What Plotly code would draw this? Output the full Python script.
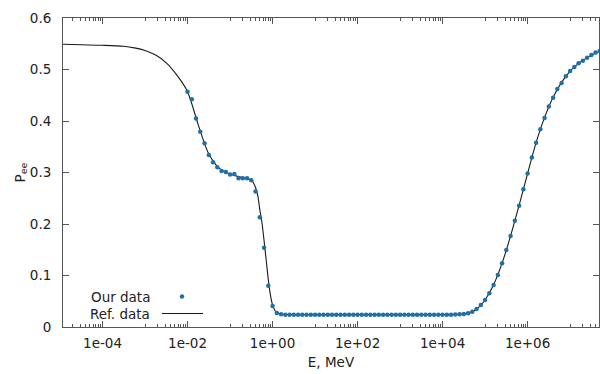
import plotly.graph_objects as go

# ---- data ----
# "Our data": log10(E/MeV) grid and P_ee values
our_log10_e = [-2.0, -1.9, -1.8, -1.7, -1.6, -1.5, -1.4, -1.3, -1.2, -1.1,
               -1.0, -0.9, -0.8, -0.7, -0.6, -0.5, -0.4, -0.3, -0.2, -0.1,
               0.0, 0.1, 0.2, 0.3, 0.4, 0.5, 0.6, 0.7, 0.8, 0.9,
               1.0, 1.1, 1.2, 1.3, 1.4, 1.5, 1.6, 1.7, 1.8, 1.9,
               2.0, 2.1, 2.2, 2.3, 2.4, 2.5, 2.6, 2.7, 2.8, 2.9,
               3.0, 3.1, 3.2, 3.3, 3.4, 3.5, 3.6, 3.7, 3.8, 3.9,
               4.0, 4.1, 4.2, 4.3, 4.4, 4.5, 4.6, 4.7, 4.8, 4.9,
               5.0, 5.1, 5.2, 5.3, 5.4, 5.5, 5.6, 5.7, 5.8, 5.9,
               6.0, 6.1, 6.2, 6.3, 6.4, 6.5, 6.6, 6.7, 6.8, 6.9,
               7.0, 7.1, 7.2, 7.3, 7.4, 7.5, 7.6, 7.7]
our_pee = [0.457, 0.442, 0.405, 0.379, 0.357, 0.334, 0.320, 0.310, 0.303, 0.301,
           0.296, 0.297, 0.289, 0.289, 0.289, 0.285, 0.263, 0.213, 0.154, 0.080,
           0.041, 0.027, 0.025, 0.024, 0.024, 0.024, 0.024, 0.024, 0.024, 0.024,
           0.024, 0.024, 0.024, 0.024, 0.024, 0.024, 0.024, 0.024, 0.024, 0.024,
           0.024, 0.024, 0.024, 0.024, 0.024, 0.024, 0.024, 0.024, 0.024, 0.024,
           0.024, 0.024, 0.024, 0.024, 0.024, 0.024, 0.024, 0.024, 0.024, 0.024,
           0.024, 0.024, 0.024, 0.0242, 0.0246, 0.0252, 0.0266, 0.0297, 0.035, 0.0427,
           0.0524, 0.0654, 0.0816, 0.101, 0.1237, 0.1495, 0.1767, 0.2064, 0.2355, 0.2674,
           0.298, 0.329, 0.358, 0.384, 0.406, 0.428, 0.445, 0.462, 0.474, 0.487,
           0.497, 0.505, 0.512, 0.517, 0.523, 0.528, 0.533, 0.536]

# "Ref. data": smooth reference curve
ref_log10_e = [-4.93, -4.5, -4.0, -3.5, -3.25, -3.0, -2.75, -2.5, -2.25, -2.0,
               -1.75, -1.5, -1.25, -1.0, -0.75, -0.6, -0.5, -0.45, -0.4, -0.35,
               -0.3, -0.25, -0.2, -0.15, -0.1, -0.05, 0.0, 0.05, 0.1, 0.2,
               0.4, 1.0, 2.0, 3.0, 4.0, 4.3, 4.5, 4.6, 4.7, 4.8,
               4.9, 5.0, 5.2, 5.4, 5.6, 5.8, 6.0, 6.2, 6.4, 6.6,
               6.8, 7.0, 7.2, 7.4, 7.68]
ref_pee = [0.549, 0.548, 0.547, 0.545, 0.542, 0.537, 0.528, 0.513, 0.489, 0.457,
           0.393, 0.336, 0.308, 0.297, 0.291, 0.288, 0.285, 0.280, 0.271, 0.256,
           0.228, 0.203, 0.168, 0.130, 0.092, 0.062, 0.043, 0.033, 0.028, 0.0252,
           0.024, 0.024, 0.024, 0.024, 0.024, 0.0245, 0.0255, 0.027, 0.030, 0.035,
           0.0425, 0.0525, 0.082, 0.124, 0.177, 0.236, 0.298, 0.358, 0.407, 0.446,
           0.475, 0.497, 0.512, 0.523, 0.535]

x_major_ticks = [1e-4, 1e-2, 1e0, 1e2, 1e4, 1e6]
x_major_labels = ["1e-04", "1e-02", "1e+00", "1e+02", "1e+04", "1e+06"]
x_minor_decades = [-5, -3, -1, 1, 3, 5, 7]
y_ticks = [0, 0.1, 0.2, 0.3, 0.4, 0.5, 0.6]
y_labels = ["0", "0.1", "0.2", "0.3", "0.4", "0.5", "0.6"]

series_names = ["Our data", "Ref. data"]
x_title = "E, MeV"
y_title = "P<sub>ee</sub>"

# ---- figure ----
FONT = "DejaVu Sans"
TXT = "#222222"
AX = "#555555"
DOT = "#1f6fa8"
LINE = "#1a1a1a"

our_e = [10 ** v for v in our_log10_e]
ref_e = [10 ** v for v in ref_log10_e]
minor_vals = [k * 10.0 ** d for d in x_minor_decades for k in range(1, 10)]

fig = go.Figure()
fig.add_trace(go.Scatter(x=ref_e, y=ref_pee, mode="lines", name=series_names[1],
                         line=dict(color=LINE, width=1.1, shape="spline", smoothing=0.8),
                         showlegend=False))
fig.add_trace(go.Scatter(x=our_e, y=our_pee, mode="markers", name=series_names[0],
                         marker=dict(color=DOT, size=4.5, line=dict(width=0)),
                         showlegend=False))

W, H = 600, 374
L, R, T, B = 63, 1, 18, 47
pw, ph = W - L - R, H - T - B

def px(xp):
    return (xp - L) / pw

def py(yp):
    return (H - B - yp) / ph

# custom gnuplot-style key (text right-aligned, sample on the right)
fig.add_annotation(x=px(152), y=py(296.5), xref="paper", yref="paper", text=series_names[0],
                   showarrow=False, xanchor="right", yanchor="middle",
                   font=dict(family=FONT, size=13.5, color=TXT))
fig.add_annotation(x=px(152), y=py(313.5), xref="paper", yref="paper", text=series_names[1],
                   showarrow=False, xanchor="right", yanchor="middle",
                   font=dict(family=FONT, size=13.5, color=TXT))
fig.add_shape(type="circle", xref="paper", yref="paper", xsizemode="pixel", ysizemode="pixel",
              xanchor=px(182), yanchor=py(296.5), x0=-2.2, x1=2.2, y0=-2.2, y1=2.2,
              fillcolor=DOT, line=dict(width=0))
fig.add_shape(type="line", xref="paper", yref="paper", x0=px(162), x1=px(203),
              y0=py(313.5), y1=py(313.5), line=dict(color=LINE, width=1.1))

fig.update_layout(
    width=W, height=H,
    margin=dict(l=L, r=R, t=T, b=B, autoexpand=False),
    paper_bgcolor="white", plot_bgcolor="white",
    font=dict(family=FONT, size=13.5, color=TXT),
    showlegend=False,
    xaxis=dict(
        type="log", range=[-4.93, 7.68], automargin=False,
        tickmode="array", tickvals=x_major_ticks, ticktext=x_major_labels,
        ticks="inside", ticklen=6, tickwidth=1, tickcolor=AX,
        minor=dict(tickmode="array", tickvals=minor_vals, ticks="inside",
                   ticklen=3, tickwidth=1, tickcolor=AX, showgrid=False),
        showline=True, linecolor=AX, linewidth=1, mirror="allticks",
        showgrid=False, zeroline=False,
        title=dict(text=x_title, font=dict(family=FONT, size=13.5, color=TXT), standoff=7),
        tickfont=dict(family=FONT, size=13.5, color=TXT),
        ticklabelstandoff=4,
    ),
    yaxis=dict(
        range=[0, 0.6], automargin=False,
        tickmode="array", tickvals=y_ticks, ticktext=y_labels,
        ticks="inside", ticklen=6, tickwidth=1, tickcolor=AX,
        showline=True, linecolor=AX, linewidth=1, mirror="allticks",
        showgrid=False, zeroline=False,
        title=dict(text=y_title, font=dict(family=FONT, size=13.5, color=TXT), standoff=1),
        tickfont=dict(family=FONT, size=13.5, color=TXT),
        ticklabelstandoff=8,
    ),
)

fig.write_html("out.html",
               config={"displayModeBar": False},
               post_script="document.body.style.margin='0';document.body.style.overflow='hidden';")
